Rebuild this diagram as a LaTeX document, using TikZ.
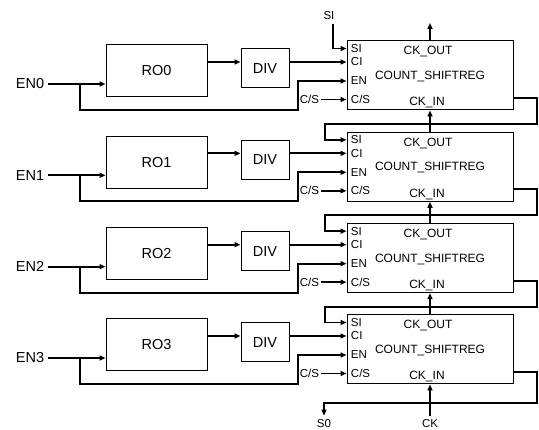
\documentclass[tikz,border=0pt]{standalone}
\usepackage{fontspec}
\setmainfont{Liberation Sans}
\usetikzlibrary{arrows.meta,positioning}

\begin{document}
\begin{tikzpicture}[x=1pt, y=-1pt, line width=1.9pt,
    >={Triangle[length=6pt,width=5pt]},
    every node/.style={font=\fontsize{14.5}{16}\selectfont},
    box/.style={draw, line width=1pt, inner sep=0pt},
    pinlbl/.style={font=\fontsize{11.5}{13}\selectfont, anchor=west, inner sep=1pt},
    reglbl/.style={font=\fontsize{12}{14}\selectfont, anchor=base, inner sep=0pt},
    small/.style={font=\fontsize{11.5}{13}\selectfont}]

    \useasboundingbox (0,0) rectangle (539,430);

    % 四路: RO -> DIV -> COUNT_SHIFTREG
    \foreach \i in {0,...,3} {
      \begin{scope}[shift={(0,91.33*\i)}]
        \node[box, minimum width=101pt, minimum height=52pt] (ro\i) at (156.5,71) {RO\i};
        \node[box, minimum width=48pt, minimum height=39pt] (div\i) at (265,68.5) {DIV};
        \node[box, minimum width=166pt, minimum height=69pt] (reg\i) at (430,75.5) {};
        \node[reglbl] (ckout\i) at (428,55) {CK\_OUT};
        \node[reglbl] (name\i) at (430,79.5) {COUNT\_SHIFTREG};
        \node[reglbl] (ckin\i) at (427,106) {CK\_IN};

        % 引脚
        \node[pinlbl] (pSI\i) at (349,48.5) {SI};
        \node[pinlbl] (pCI\i) at (349,62) {CI};
        \node[pinlbl] (pEN\i) at (349,81) {EN};
        \node[pinlbl] (pCS\i) at (349,99.5) {C/S};
        \node[pinlbl, anchor=east] (cs\i) at (321,99.5) {C/S};

        % 使能输入
        \node (en\i) at (30,84) {EN\i};
        \coordinate (br\i) at (80,84);
        \draw[->] (en\i.east) -- (ro\i.west |- en\i);
        \draw[->] (br\i) |- (298,110) |- (reg\i.west |- pEN\i);

        \draw[->] (ro\i.east |- pCI\i) -- (div\i.west |- pCI\i);
        \draw[->] (div\i.east |- pCI\i) -- (reg\i.west |- pCI\i);
        \draw[->] (cs\i.east) -- (reg\i.west |- cs\i);

        \coordinate (out\i) at (513,98);
        \coordinate (turn\i) at (537,124);
        \coordinate (back\i) at (325,124);
      \end{scope}
    }

    % 级联: 串行数据与时钟
    \foreach \i/\j in {0/1,1/2,2/3} {
      \draw[->] (out\i) -| (turn\i) -- (back\i) |- (reg\j.west |- pSI\j);
      \draw[->] (reg\j.north) -- (reg\i.south);
    }

    % 顶部
    \node[small] (si) at (329,16) {SI};
    \coordinate (ckTop) at (430,23);
    \draw[->] ([xshift=4pt]si.south) |- (reg0.west |- pSI0);
    \draw[->] (reg0.north) -- (ckTop);

    % 底部
    \node[small] (so) at (324,424) {S0};
    \node[small] (ck) at (430,424) {CK};
    \coordinate (turnEnd) at (537,403);
    \draw[->] (out3) -| (turnEnd) -| (so.north);
    \draw[->] (ck.north) -- (reg3.south);
\end{tikzpicture}
\end{document}
